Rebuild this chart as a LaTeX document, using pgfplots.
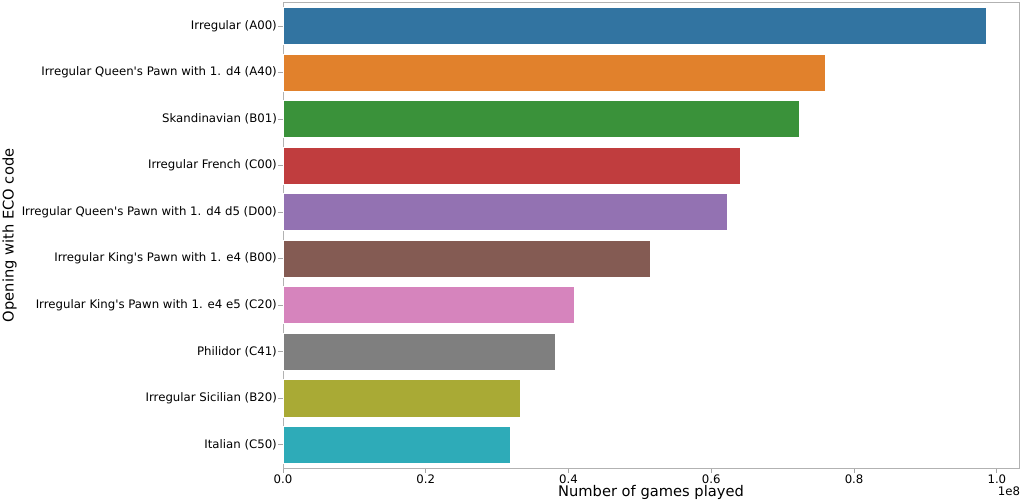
\documentclass[border=0pt]{standalone}
\usepackage{fontspec}
\setmainfont{DejaVu Sans}
\usepackage{pgfplots}
\pgfplotsset{compat=1.18}

\definecolor{c0}{HTML}{3274A1}
\definecolor{c1}{HTML}{E1812C}
\definecolor{c2}{HTML}{3A923A}
\definecolor{c3}{HTML}{C03D3E}
\definecolor{c4}{HTML}{9372B2}
\definecolor{c5}{HTML}{845B53}
\definecolor{c6}{HTML}{D684BD}
\definecolor{c7}{HTML}{7F7F7F}
\definecolor{c8}{HTML}{A9AA35}
\definecolor{c9}{HTML}{2EABB8}

\begin{document}
\begin{tikzpicture}
\begin{axis}[
    at={(212.25pt,25.5pt)}, anchor=south west,
    scale only axis,
    width=552pt, height=349pt,
    xbar, bar width=0.8, bar shift=0pt,
    y dir=reverse,
    ymin=-0.5, ymax=9.5,
    xmin=0, xmax=1.031e8,
    scaled x ticks=false,
    xtick={0,2e7,4e7,6e7,8e7,1e8},
    xticklabels={0.0,0.2,0.4,0.6,0.8,1.0},
    ytick={0,...,9},
    yticklabels={
        Irregular (A00),
        Irregular Queen\textquotesingle s Pawn with 1. d4 (A40),
        Skandinavian (B01),
        Irregular French (C00),
        Irregular Queen\textquotesingle s Pawn with 1. d4 d5 (D00),
        Irregular King\textquotesingle s Pawn with 1. e4 (B00),
        Irregular King\textquotesingle s Pawn with 1. e4 e5 (C20),
        Philidor (C41),
        Irregular Sicilian (B20),
        Italian (C50)},
    tick align=outside,
    major tick length=3.6pt,
    tick style={gray!70, line width=0.6pt},
    axis line style={gray!60, line width=0.6pt},
    xtick pos=bottom, ytick pos=left,
    tick label style={font=\fontsize{8.8}{10}\selectfont, black},
    yticklabel style={xshift=2.5pt},
    xticklabel style={yshift=2pt},
    /pgf/number format/assume math mode=true,
    xlabel={Number of games played},
    ylabel={Opening with ECO code},
    label style={font=\fontsize{11}{13}\selectfont},
    xlabel style={yshift=5.5pt},
    ylabel style={yshift=-3pt},
    clip=false,
]
\addplot[fill=c0, draw=white, line width=0.4pt] coordinates {(98500000,0)};
\addplot[fill=c1, draw=white, line width=0.4pt] coordinates {(76000000,1)};
\addplot[fill=c2, draw=white, line width=0.4pt] coordinates {(72300000,2)};
\addplot[fill=c3, draw=white, line width=0.4pt] coordinates {(64100000,3)};
\addplot[fill=c4, draw=white, line width=0.4pt] coordinates {(62200000,4)};
\addplot[fill=c5, draw=white, line width=0.4pt] coordinates {(51500000,5)};
\addplot[fill=c6, draw=white, line width=0.4pt] coordinates {(40800000,6)};
\addplot[fill=c7, draw=white, line width=0.4pt] coordinates {(38200000,7)};
\addplot[fill=c8, draw=white, line width=0.4pt] coordinates {(33300000,8)};
\addplot[fill=c9, draw=white, line width=0.4pt] coordinates {(31800000,9)};
\node[anchor=north east, font=\fontsize{8.8}{10}\selectfont, inner sep=0pt] at (rel axis cs:1,0) [yshift=-14pt, xshift=1pt] {1e8};
\end{axis}
\pgfresetboundingbox
\path (0pt,0pt) rectangle (768pt,376.5pt);
\end{tikzpicture}
\end{document}
